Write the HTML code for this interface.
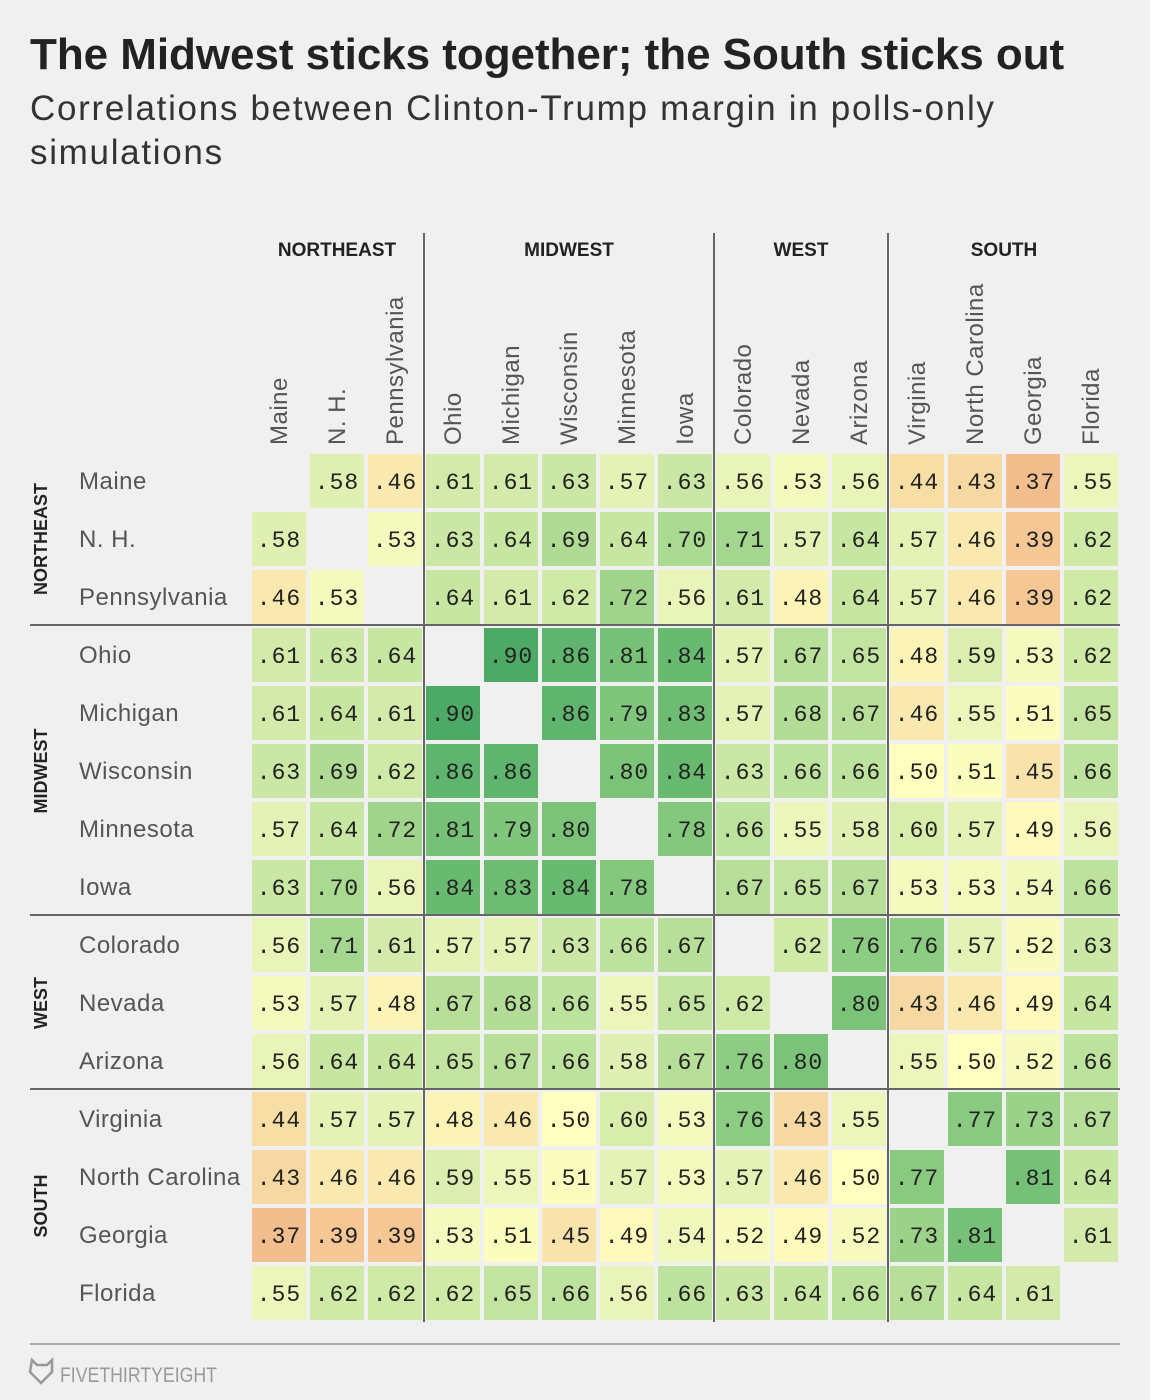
<!DOCTYPE html>
<html><head><meta charset="utf-8"><style>
body{margin:0;background:#f0f0f0;}
#root{position:relative;width:1150px;height:1400px;background:#f0f0f0;font-family:"Liberation Sans",sans-serif;overflow:hidden;}
.t{position:absolute;white-space:nowrap;}
</style></head><body>
<div id="root">
<div class="t" style="left:30px;top:30px;font-size:44px;font-weight:bold;color:#222;letter-spacing:-0.05px;">The Midwest sticks together; the South sticks out</div>
<div class="t" style="left:30px;top:87px;font-size:35px;color:#333;line-height:44px;white-space:normal;width:1050px;letter-spacing:1.7px;">Correlations between Clinton-Trump margin in polls-only simulations</div>
<svg id="chart" width="1150" height="1400" style="position:absolute;left:0;top:0"></svg>
</div>
<script>
const states = ["Maine","N. H.","Pennsylvania","Ohio","Michigan","Wisconsin","Minnesota","Iowa","Colorado","Nevada","Arizona","Virginia","North Carolina","Georgia","Florida"];
const groups = ["NORTHEAST","MIDWEST","WEST","SOUTH"];
const groupSizes = [3,5,3,4];
const values = [
[null,.58,.46,.61,.61,.63,.57,.63,.56,.53,.56,.44,.43,.37,.55],
[.58,null,.53,.63,.64,.69,.64,.70,.71,.57,.64,.57,.46,.39,.62],
[.46,.53,null,.64,.61,.62,.72,.56,.61,.48,.64,.57,.46,.39,.62],
[.61,.63,.64,null,.90,.86,.81,.84,.57,.67,.65,.48,.59,.53,.62],
[.61,.64,.61,.90,null,.86,.79,.83,.57,.68,.67,.46,.55,.51,.65],
[.63,.69,.62,.86,.86,null,.80,.84,.63,.66,.66,.50,.51,.45,.66],
[.57,.64,.72,.81,.79,.80,null,.78,.66,.55,.58,.60,.57,.49,.56],
[.63,.70,.56,.84,.83,.84,.78,null,.67,.65,.67,.53,.53,.54,.66],
[.56,.71,.61,.57,.57,.63,.66,.67,null,.62,.76,.76,.57,.52,.63],
[.53,.57,.48,.67,.68,.66,.55,.65,.62,null,.80,.43,.46,.49,.64],
[.56,.64,.64,.65,.67,.66,.58,.67,.76,.80,null,.55,.50,.52,.66],
[.44,.57,.57,.48,.46,.50,.60,.53,.76,.43,.55,null,.77,.73,.67],
[.43,.46,.46,.59,.55,.51,.57,.53,.57,.46,.50,.77,null,.81,.64],
[.37,.39,.39,.53,.51,.45,.49,.54,.52,.49,.52,.73,.81,null,.61],
[.55,.62,.62,.62,.65,.66,.56,.66,.63,.64,.66,.67,.64,.61,null]
];
const svg=document.getElementById('chart');
const NS='http://www.w3.org/2000/svg';
const X0=252,Y0=454,P=58,C=54;
const xPos=i=>X0+i*P, yPos=i=>Y0+i*P;
const stops=[[.37,[243,190,142]],[.44,[247,222,165]],[.50,[255,255,192]],[.55,[236,246,187]],[.60,[216,236,172]],[.65,[194,228,160]],[.72,[160,212,140]],[.78,[132,200,126]],[.84,[104,186,112]],[.90,[77,170,102]]];
function color(v){
  if(v<=stops[0][0])return 'rgb('+stops[0][1]+')';
  for(let i=1;i<stops.length;i++){if(v<=stops[i][0]){const a=stops[i-1],b=stops[i];const t=(v-a[0])/(b[0]-a[0]);return 'rgb('+a[1].map((c,k)=>Math.round(c+(b[1][k]-c)*t)).join(',')+')';}}
  return 'rgb('+stops[stops.length-1][1]+')';
}
function mk(tag,attrs,txt){const e=document.createElementNS(NS,tag);for(const k in attrs)e.setAttribute(k,attrs[k]);if(txt!==undefined)e.textContent=txt;svg.appendChild(e);return e;}
values.forEach((row,r)=>row.forEach((v,c)=>{
  if(v===null)return;
  const rect=mk('rect',{x:xPos(c),y:yPos(r),width:C,height:C,fill:color(v)});
  
  
  const t=mk('text',{x:xPos(c)+C/2,y:yPos(r)+C/2+8,'text-anchor':'middle','font-family':'Liberation Mono, monospace','font-size':23,fill:'#222','letter-spacing':'1'},'.'+String(Math.round(v*100)).padStart(2,'0'));
  
  
}));
states.forEach((s,i)=>{
  const cx=xPos(i)+C/2+8;
  const t=mk('text',{x:cx,y:445,transform:'rotate(-90 '+cx+' 445)','font-size':24,fill:'#555','letter-spacing':'0.5'},s);
  
  
  const rl=mk('text',{x:79,y:yPos(i)+C/2+8,'font-size':24,fill:'#555','letter-spacing':'0.5'},s);
  
  
});
let start=0;
groups.forEach((g,gi)=>{
  const n=groupSizes[gi];
  const cx=(xPos(start)+xPos(start+n-1)+C)/2;
  const gt=mk('text',{x:cx,y:256,'text-anchor':'middle','font-size':19,'font-weight':'bold',fill:'#222'},g);
  
  
  const cy=(yPos(start)+yPos(start+n-1)+C)/2;
  const rt=mk('text',{x:47,y:cy,'text-anchor':'middle','font-size':18,'font-weight':'bold',fill:'#222',transform:'rotate(-90 47 '+cy+')'},g);
  
  
  if(gi>0){
    const x=xPos(start)-2, y=yPos(start)-3;
    const vl=mk('line',{x1:x,y1:233,x2:x,y2:1322,stroke:'#666','stroke-width':2});
    
    
    const hl=mk('line',{x1:30,y1:y,x2:1120,y2:y,stroke:'#666','stroke-width':2});
    
    
  }
  start+=n;
});
const bl=mk('line',{x1:30,y1:1344,x2:1120,y2:1344,stroke:'#aaa','stroke-width':2});


const logo=mk('path',{d:'M32 1360 l5 5 h10 l5 -5 v12 l-11 11 l-11 -11 z',fill:'none',stroke:'#999','stroke-width':2.5});


const ft=mk('text',{x:60,y:1382,'font-size':21,fill:'#999','textLength':157,'lengthAdjust':'spacingAndGlyphs'},'FIVETHIRTYEIGHT');


</script>
</body></html>
